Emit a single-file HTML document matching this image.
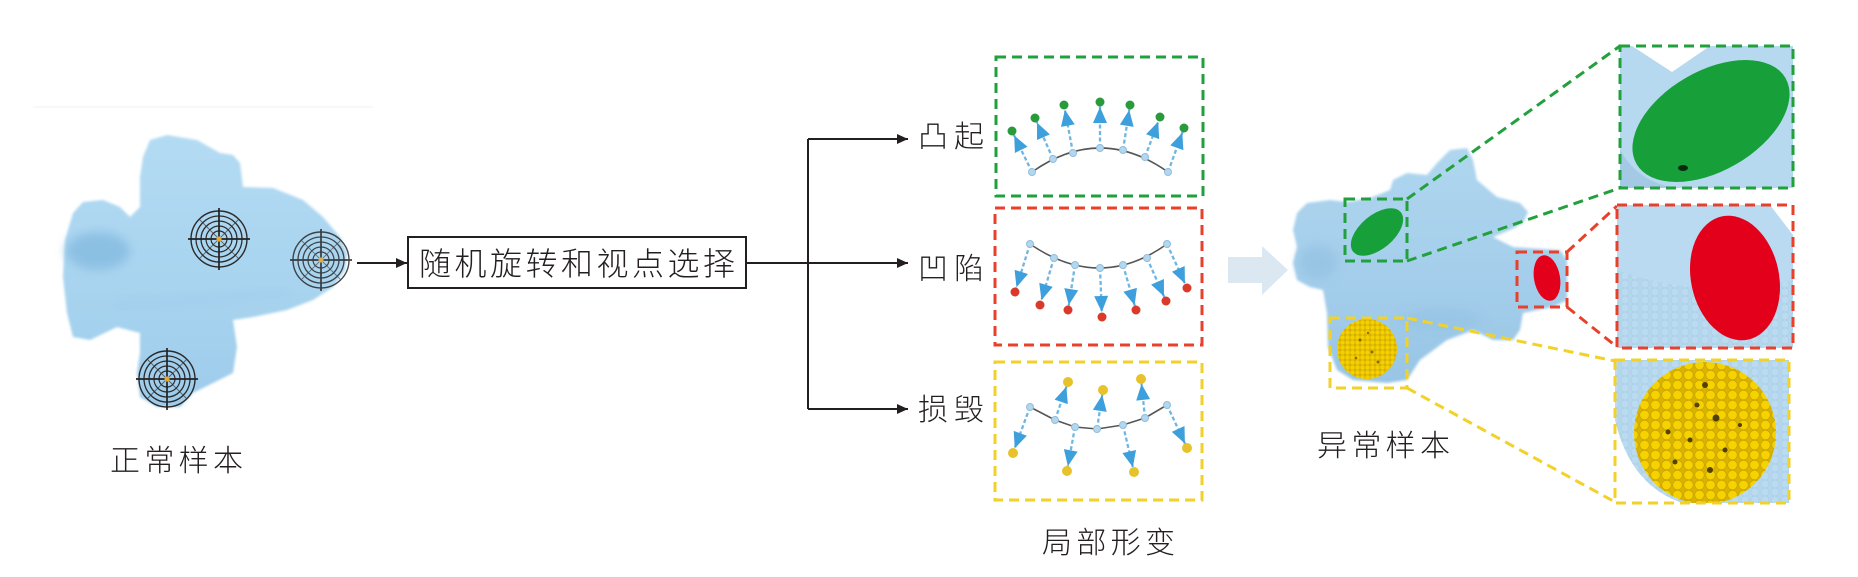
<!DOCTYPE html>
<html><head><meta charset="utf-8"><style>
html,body{margin:0;padding:0;background:#fff;}
svg{display:block;}
text{font-family:"Liberation Sans","Noto Sans CJK SC",sans-serif;font-weight:300;fill:#231f20;}
</style></head><body>
<svg width="1858" height="577" viewBox="0 0 1858 577" xmlns="http://www.w3.org/2000/svg">
<defs>
  <marker id="ah" markerUnits="userSpaceOnUse" markerWidth="30" markerHeight="20" viewBox="-25 -10 30 20" refX="0" refY="0" orient="auto">
    <path d="M-21,-7 L-5,0 L-21,7 Z" fill="#3d9fdc"/>
  </marker>
  <marker id="bh" markerUnits="userSpaceOnUse" markerWidth="14" markerHeight="12" viewBox="-12 -6 14 12" refX="0" refY="0" orient="auto">
    <path d="M-11,-5 L0,0 L-11,5 Z" fill="#231f20"/>
  </marker>
  <filter id="soft" x="-5%" y="-5%" width="110%" height="110%"><feGaussianBlur stdDeviation="1.3"/></filter>
  <filter id="blur4" x="-50%" y="-50%" width="200%" height="200%"><feGaussianBlur stdDeviation="5"/></filter>
  <linearGradient id="bodyN" x1="0" y1="0" x2="0" y2="1">
    <stop offset="0" stop-color="#b3dbf3"/><stop offset="0.6" stop-color="#a7d3ef"/><stop offset="1" stop-color="#9dcbea"/>
  </linearGradient>
  <linearGradient id="bodyA" x1="0" y1="0" x2="0" y2="1">
    <stop offset="0" stop-color="#afd6ef"/><stop offset="0.6" stop-color="#a3cdea"/><stop offset="1" stop-color="#98c5e5"/>
  </linearGradient>
  <pattern id="balls" width="11" height="10" patternUnits="userSpaceOnUse">
    <rect width="11" height="10" fill="#d9b300"/>
    <circle cx="5.5" cy="5" r="4.8" fill="#f6d300" stroke="#c9a400" stroke-width="0.8"/>
  </pattern>
  <pattern id="ballsS" width="5" height="5" patternUnits="userSpaceOnUse">
    <rect width="5" height="5" fill="#d7b000"/>
    <circle cx="2.5" cy="2.5" r="2.2" fill="#f4d000"/>
  </pattern>
  <pattern id="scales" width="10" height="8" patternUnits="userSpaceOnUse">
    <rect width="10" height="8" fill="#b4d7ee"/>
    <circle cx="5" cy="4" r="4" fill="#badbf0" stroke="#abcfe8" stroke-width="0.7"/>
  </pattern>
  <clipPath id="cG"><rect x="1620" y="46" width="173" height="142"/></clipPath>
  <clipPath id="cR"><rect x="1617" y="205" width="176" height="143"/></clipPath>
  <clipPath id="cY"><rect x="1615" y="360" width="174" height="143"/></clipPath>
  <g id="tgt">
    <circle r="28" fill="none" stroke="#2a2a2a" stroke-width="1.4"/>
    <circle r="23" fill="none" stroke="#2a2a2a" stroke-width="1.3"/>
    <circle r="18" fill="none" stroke="#2a2a2a" stroke-width="1.3"/>
    <circle r="13" fill="none" stroke="#2a2a2a" stroke-width="1.2"/>
    <circle r="8" fill="none" stroke="#2a2a2a" stroke-width="1.2"/>
    <path d="M-20,-20 L20,20 M-20,20 L20,-20" stroke="#333" stroke-width="0.9" opacity="0.7"/>
    <path d="M-31,0 H31 M0,-31 V31" stroke="#222" stroke-width="1.7"/>
    <circle r="2.6" fill="#e4a92e"/>
  </g>
</defs>

<line x1="33" y1="107" x2="373" y2="107" stroke="#f2f2f2" stroke-width="1"/>

<!-- Normal airplane -->
<g filter="url(#soft)">
  <path fill="url(#bodyN)" d="M143,157 L150,140 L167,135 L197,140 L220,153 L233,155 L240,163 L243,187 L273,188 L303,200 L323,217 L340,237 L347,253 L345,270 L333,287 L313,300 L287,310 L253,317 L233,320 L237,347 L233,373 L213,383 L193,393 L180,407 L157,407 L140,397 L137,373 L140,353 L140,333 L117,327 L90,340 L73,337 L67,313 L63,277 L65,240 L73,213 L83,202 L103,200 L120,207 L130,217 L140,207 L140,177 Z"/>
</g>
<ellipse cx="98" cy="251" rx="32" ry="19" fill="#8cc0e3" filter="url(#blur4)"/>
<path d="M115,305 Q200,300 290,292" stroke="#99c7e7" stroke-width="4" fill="none" filter="url(#blur4)" opacity="0.7"/>
<use href="#tgt" x="219" y="239"/>
<use href="#tgt" x="321" y="260" opacity="0.85"/>
<use href="#tgt" x="167" y="379"/>

<text x="110" y="471" font-size="30" textLength="133" lengthAdjust="spacing">正常样本</text>

<!-- connectors -->
<g stroke="#231f20" stroke-width="2" fill="none">
  <line x1="357" y1="263" x2="407" y2="263" marker-end="url(#bh)"/>
  <rect x="408" y="237" width="338" height="51"/>
  <line x1="746" y1="263" x2="808" y2="263"/>
  <line x1="808" y1="139" x2="808" y2="409"/>
  <line x1="808" y1="139" x2="908" y2="139" marker-end="url(#bh)"/>
  <line x1="808" y1="263" x2="908" y2="263" marker-end="url(#bh)"/>
  <line x1="808" y1="409" x2="908" y2="409" marker-end="url(#bh)"/>
</g>
<text x="419" y="275" font-size="32" textLength="316" lengthAdjust="spacing">随机旋转和视点选择</text>

<text x="918" y="147" font-size="30" textLength="66" lengthAdjust="spacing">凸起</text>
<text x="918" y="279" font-size="30" textLength="66" lengthAdjust="spacing">凹陷</text>
<text x="918" y="420" font-size="30" textLength="66" lengthAdjust="spacing">损毁</text>

<!-- deformation boxes -->
<g fill="none" stroke-width="3" stroke-dasharray="10 6">
  <rect x="996" y="57" width="207" height="139" stroke="#22a03c"/>
  <rect x="995" y="208" width="207" height="137" stroke="#e8402a"/>
  <rect x="995" y="362" width="207" height="138" stroke="#f2d229"/>
</g>

<path d="M1032,172 Q1100,124 1168,172" stroke="#555" stroke-width="1.6" fill="none"/>
<g stroke="#6fb6e2" stroke-width="2.3" stroke-dasharray="4 2.5" fill="none" marker-end="url(#ah)">
  <line x1="1032" y1="172" x2="1012" y2="131"/>
  <line x1="1053" y1="159" x2="1035" y2="118"/>
  <line x1="1073" y1="153" x2="1064" y2="105"/>
  <line x1="1100" y1="148" x2="1100" y2="102"/>
  <line x1="1123" y1="150" x2="1130" y2="105"/>
  <line x1="1145" y1="157" x2="1160" y2="117"/>
  <line x1="1168" y1="172" x2="1184" y2="128"/>
</g>
<g fill="#2a9a3c">
  <circle cx="1012" cy="131" r="4.5"/><circle cx="1035" cy="118" r="4.5"/><circle cx="1064" cy="105" r="4.5"/>
  <circle cx="1100" cy="102" r="4.5"/><circle cx="1130" cy="105" r="4.5"/><circle cx="1160" cy="117" r="4.5"/><circle cx="1184" cy="128" r="4.5"/>
</g>
<g fill="#b5d6ec" stroke="#8fbfe0" stroke-width="1">
  <circle cx="1032" cy="172" r="3.5"/><circle cx="1053" cy="159" r="3.5"/><circle cx="1073" cy="153" r="3.5"/>
  <circle cx="1100" cy="148" r="3.5"/><circle cx="1123" cy="150" r="3.5"/><circle cx="1145" cy="157" r="3.5"/><circle cx="1168" cy="172" r="3.5"/>
</g>

<path d="M1030,244 Q1100,292 1167,244" stroke="#555" stroke-width="1.6" fill="none"/>
<g stroke="#6fb6e2" stroke-width="2.3" stroke-dasharray="4 2.5" fill="none" marker-end="url(#ah)">
  <line x1="1030" y1="244" x2="1015" y2="292"/>
  <line x1="1054" y1="258" x2="1040" y2="305"/>
  <line x1="1075" y1="265" x2="1068" y2="310"/>
  <line x1="1100" y1="268" x2="1102" y2="317"/>
  <line x1="1123" y1="265" x2="1136" y2="310"/>
  <line x1="1147" y1="258" x2="1166" y2="301"/>
  <line x1="1167" y1="244" x2="1187" y2="288"/>
</g>
<g fill="#d93a2a">
  <circle cx="1015" cy="292" r="4.5"/><circle cx="1040" cy="305" r="4.5"/><circle cx="1068" cy="310" r="4.5"/>
  <circle cx="1102" cy="317" r="4.5"/><circle cx="1136" cy="310" r="4.5"/><circle cx="1166" cy="301" r="4.5"/><circle cx="1187" cy="288" r="4.5"/>
</g>
<g fill="#b5d6ec" stroke="#8fbfe0" stroke-width="1">
  <circle cx="1030" cy="244" r="3.5"/><circle cx="1054" cy="258" r="3.5"/><circle cx="1075" cy="265" r="3.5"/>
  <circle cx="1100" cy="268" r="3.5"/><circle cx="1123" cy="265" r="3.5"/><circle cx="1147" cy="258" r="3.5"/><circle cx="1167" cy="244" r="3.5"/>
</g>

<polyline points="1030,407 1055,420 1075,427 1097,429 1123,425 1145,418 1167,405" stroke="#555" stroke-width="1.6" fill="none"/>
<g stroke="#6fb6e2" stroke-width="2.3" stroke-dasharray="4 2.5" fill="none" marker-end="url(#ah)">
  <line x1="1030" y1="407" x2="1013" y2="453"/>
  <line x1="1055" y1="420" x2="1068" y2="382"/>
  <line x1="1075" y1="427" x2="1067" y2="471"/>
  <line x1="1097" y1="429" x2="1103" y2="390"/>
  <line x1="1123" y1="425" x2="1134" y2="472"/>
  <line x1="1145" y1="418" x2="1141" y2="379"/>
  <line x1="1167" y1="405" x2="1187" y2="448"/>
</g>
<g fill="#e8c22a">
  <circle cx="1013" cy="453" r="5"/><circle cx="1068" cy="382" r="5"/><circle cx="1067" cy="471" r="5"/>
  <circle cx="1103" cy="390" r="5"/><circle cx="1134" cy="472" r="5"/><circle cx="1141" cy="379" r="5"/><circle cx="1187" cy="448" r="5"/>
</g>
<g fill="#b5d6ec" stroke="#8fbfe0" stroke-width="1">
  <circle cx="1030" cy="407" r="3.5"/><circle cx="1055" cy="420" r="3.5"/><circle cx="1075" cy="427" r="3.5"/>
  <circle cx="1097" cy="429" r="3.5"/><circle cx="1123" cy="425" r="3.5"/><circle cx="1145" cy="418" r="3.5"/><circle cx="1167" cy="405" r="3.5"/>
</g>

<text x="1042" y="553" font-size="30" textLength="133" lengthAdjust="spacing">局部形变</text>

<polygon points="1228,257 1262,257 1262,246 1288,270 1262,295 1262,283 1228,283" fill="#dbe8f2"/>

<!-- Anomaly airplane -->
<g filter="url(#soft)">
  <path fill="url(#bodyA)" d="M1297,213 L1307,203 L1330,200 L1347,202 L1370,198 L1390,190 L1393,180 L1407,173 L1427,175 L1437,163 L1450,150 L1467,148 L1473,160 L1477,180 L1497,197 L1520,203 L1528,212 L1523,223 L1510,230 L1493,237 L1513,247 L1560,250 L1567,260 L1567,300 L1553,307 L1523,313 L1520,330 L1513,340 L1493,340 L1473,330 L1447,340 L1420,360 L1407,380 L1387,383 L1353,380 L1337,370 L1328,347 L1327,313 L1323,290 L1310,287 L1297,280 L1293,263 L1297,247 L1293,230 Z"/>
</g>
<ellipse cx="1318" cy="262" rx="20" ry="18" fill="#92c0e1" filter="url(#blur4)" opacity="0.6"/>
<ellipse cx="1440" cy="320" rx="40" ry="12" fill="#93c1e2" filter="url(#blur4)" opacity="0.5"/>

<ellipse cx="1377" cy="232" rx="31" ry="17" transform="rotate(-40 1377 232)" fill="#17a03a"/>
<ellipse cx="1547" cy="278" rx="13" ry="23" transform="rotate(-10 1547 278)" fill="#e3001a"/>
<circle cx="1367" cy="349" r="30" fill="url(#ballsS)"/>
<g fill="#6b5410" opacity="0.8">
  <circle cx="1360" cy="340" r="1.5"/><circle cx="1372" cy="352" r="1.5"/><circle cx="1378" cy="362" r="1.5"/><circle cx="1356" cy="358" r="1.3"/><circle cx="1368" cy="333" r="1.2"/>
</g>

<g fill="none" stroke-width="3" stroke-dasharray="10 6">
  <rect x="1345" y="199" width="62" height="62" stroke="#22a03c"/>
  <rect x="1517" y="252" width="50" height="55" stroke="#e8402a"/>
  <rect x="1330" y="318" width="77" height="70" stroke="#f2d229"/>
  <line x1="1407" y1="199" x2="1620" y2="46" stroke="#22a03c"/>
  <line x1="1407" y1="261" x2="1620" y2="188" stroke="#22a03c"/>
  <line x1="1567" y1="252" x2="1617" y2="206" stroke="#e8402a"/>
  <line x1="1567" y1="307" x2="1617" y2="347" stroke="#e8402a"/>
  <line x1="1407" y1="318" x2="1615" y2="361" stroke="#f2d229"/>
  <line x1="1407" y1="388" x2="1615" y2="502" stroke="#f2d229"/>
</g>

<!-- Insets -->
<g clip-path="url(#cG)">
  <rect x="1620" y="46" width="173" height="142" fill="#b6d9f0"/>
  <polygon points="1632,46 1710,46 1672,72" fill="#ffffff"/>
  <path d="M1620,150 Q1640,185 1680,188 L1620,188 Z" fill="#a3c9e5"/>
  <ellipse cx="1711" cy="121" rx="86" ry="50" transform="rotate(-30 1711 121)" fill="#17a03a"/>
  <ellipse cx="1683" cy="168" rx="5" ry="3" fill="#0a2a10"/>
</g>
<g clip-path="url(#cR)">
  <rect x="1617" y="205" width="176" height="143" fill="url(#scales)"/>
  <path d="M1617,205 L1793,205 L1793,280 Q1700,300 1617,270 Z" fill="#b9daf0"/>
  <path d="M1770,205 L1793,205 L1793,235 Z" fill="#ffffff"/>
  <ellipse cx="1735" cy="278" rx="44" ry="63" transform="rotate(-12 1735 278)" fill="#e3001a"/>
</g>
<g clip-path="url(#cY)">
  <rect x="1615" y="360" width="174" height="143" fill="url(#scales)"/>
  <path d="M1615,420 Q1630,485 1682,503 L1615,503 Z" fill="#ffffff"/>
  <circle cx="1705" cy="433" r="71" fill="url(#balls)"/>
  <g fill="#3a2c08" opacity="0.85">
    <circle cx="1705" cy="385" r="3"/><circle cx="1697" cy="405" r="2.5"/><circle cx="1716" cy="418" r="3.5"/>
    <circle cx="1668" cy="432" r="2.5"/><circle cx="1690" cy="440" r="2.5"/><circle cx="1725" cy="450" r="2.5"/>
    <circle cx="1675" cy="462" r="2.5"/><circle cx="1710" cy="470" r="3"/><circle cx="1740" cy="425" r="2"/>
  </g>
</g>
<g fill="none" stroke-width="3" stroke-dasharray="10 6">
  <rect x="1620" y="46" width="173" height="142" stroke="#22a03c"/>
  <rect x="1617" y="205" width="176" height="143" stroke="#e8402a"/>
  <rect x="1615" y="360" width="174" height="143" stroke="#f2d229"/>
</g>

<text x="1317" y="456" font-size="30" textLength="133" lengthAdjust="spacing">异常样本</text>
</svg>
</body></html>
